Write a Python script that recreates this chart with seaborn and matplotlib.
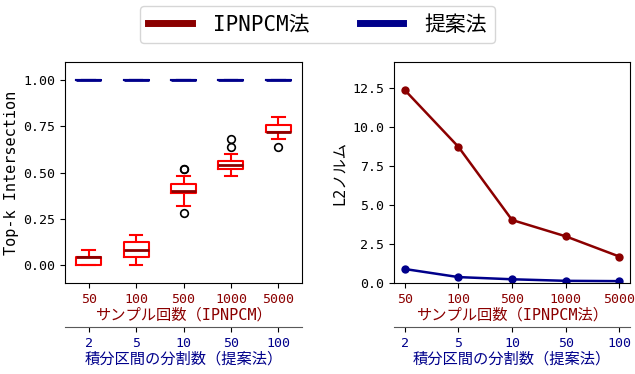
import matplotlib
matplotlib.use("Agg")
import matplotlib.pyplot as plt
from matplotlib.lines import Line2D
import seaborn as sns
import pandas as pd

plt.rcParams['font.family'] = ['DejaVu Sans Mono', 'Noto Sans CJK JP']

# ---- data ----
sample_counts = ["50", "100", "500", "1000", "5000"]
split_counts = ["2", "5", "10", "50", "100"]

topk_ipnpcm_50 = [0.00]*6 + [0.04]*10 + [0.08]*4
topk_ipnpcm_100 = [0.00] + [0.04]*5 + [0.08]*7 + [0.12]*5 + [0.16]*2
topk_ipnpcm_500 = [0.28, 0.32] + [0.36]*4 + [0.40]*8 + [0.44]*7 + [0.48] + [0.52]*2
topk_ipnpcm_1000 = [0.48] + [0.52]*9 + [0.56]*7 + [0.60, 0.64, 0.68]
topk_ipnpcm_5000 = [0.64, 0.68] + [0.72]*9 + [0.76]*7 + [0.80]*2
topk_proposed = [1.0]*20

l2_ipnpcm = [12.4, 8.75, 4.05, 3.0, 1.7]
l2_proposed = [0.9, 0.38, 0.24, 0.14, 0.12]

ipnpcm_lists = [topk_ipnpcm_50, topk_ipnpcm_100, topk_ipnpcm_500,
                topk_ipnpcm_1000, topk_ipnpcm_5000]
rows_red = [(c, v) for c, vals in zip(sample_counts, ipnpcm_lists) for v in vals]
df_red = pd.DataFrame(rows_red, columns=["cat", "value"])
rows_blue = [(c, v) for c in sample_counts for v in topk_proposed]
df_blue = pd.DataFrame(rows_blue, columns=["cat", "value"])

df_l2 = pd.DataFrame({"cat": sample_counts, "ipnpcm": l2_ipnpcm, "proposed": l2_proposed})

RED_DARK = "#8b0000"
BLUE_DARK = "#00008b"

fig = plt.figure(figsize=(6.35, 3.74), dpi=100)
ax1 = fig.add_axes([0.1024, 0.2433, 0.3732, 0.5909])
ax2 = fig.add_axes([0.6205, 0.2433, 0.3717, 0.5909])

flier = dict(marker='o', markeredgecolor='black', markerfacecolor='none',
             markersize=5.5, markeredgewidth=1.2)
sns.boxplot(data=df_red, x="cat", y="value", order=sample_counts, ax=ax1,
            color="red", fill=False, width=0.53, linewidth=1.5,
            medianprops=dict(color=RED_DARK, linewidth=2),
            flierprops=flier)
sns.boxplot(data=df_blue, x="cat", y="value", order=sample_counts, ax=ax1,
            color=BLUE_DARK, fill=False, width=0.53, linewidth=1.5,
            medianprops=dict(color=BLUE_DARK, linewidth=2),
            flierprops=flier)
ax1.set_ylim(-0.1, 1.1)
ax1.set_xlim(-0.5, 4.5)
ax1.set_yticks([0.0, 0.25, 0.5, 0.75, 1.0])
ax1.set_yticklabels(["0.00", "0.25", "0.50", "0.75", "1.00"])
ax1.set_ylabel("Top-k Intersection", fontsize=11, labelpad=3)
ax1.set_xlabel("サンプル回数（IPNPCM）", fontsize=11, color=RED_DARK, labelpad=1)

sns.lineplot(data=df_l2, x="cat", y="ipnpcm", ax=ax2, color=RED_DARK,
             marker='o', markersize=6, markeredgewidth=0, linewidth=1.8, sort=False)
sns.lineplot(data=df_l2, x="cat", y="proposed", ax=ax2, color=BLUE_DARK,
             marker='o', markersize=6, markeredgewidth=0, linewidth=1.8, sort=False)
ax2.set_xlim(-0.2, 4.2)
ax2.set_ylim(0, 14.2)
ax2.set_yticks([0, 2.5, 5, 7.5, 10, 12.5])
ax2.set_ylabel("L2ノルム", fontsize=11)
ax2.set_xlabel("サンプル回数（IPNPCM法）", fontsize=11, color=RED_DARK, labelpad=1)

for ax in (ax1, ax2):
    ax.set_xticks(range(len(sample_counts)))
    ax.set_xticklabels(sample_counts, color=RED_DARK)
    ax.tick_params(labelsize=9.5)
    sec = ax.secondary_xaxis(-0.2)
    sec.set_xticks(range(len(split_counts)))
    sec.set_xticklabels(split_counts, color=BLUE_DARK)
    sec.tick_params(labelsize=9.5)
    sec.spines['bottom'].set_color('0.35')
    sec.set_xlabel("積分区間の分割数（提案法）", fontsize=11, color=BLUE_DARK, labelpad=1)

handles = [Line2D([], [], color=RED_DARK, linewidth=5),
           Line2D([], [], color=BLUE_DARK, linewidth=5)]
fig.legend(handles, ["IPNPCM法", "提案法"], loc="upper center",
           bbox_to_anchor=(0.5, 1.0), ncol=2, fontsize=15, handlelength=2.1,
           handletextpad=1.0, columnspacing=2.4, borderaxespad=0.3)

fig.savefig("out.png", dpi=100)
